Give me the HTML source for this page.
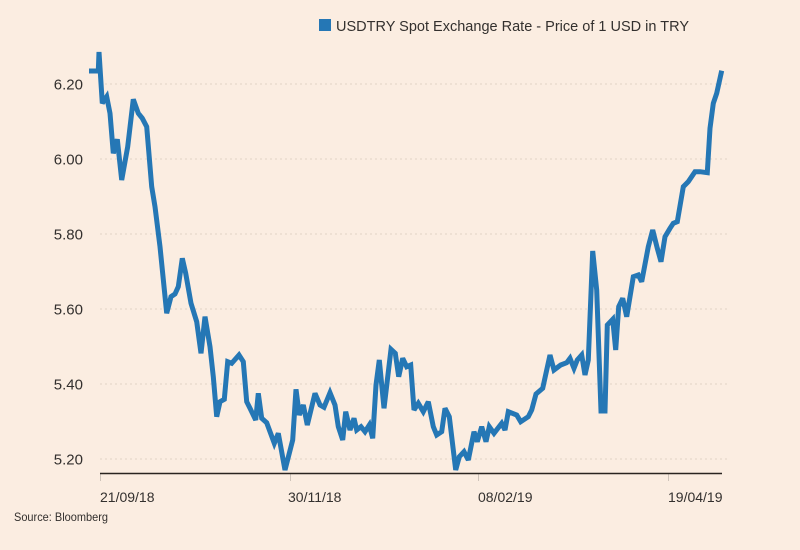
<!DOCTYPE html>
<html>
<head>
<meta charset="utf-8">
<style>
  html,body{margin:0;padding:0;background:#fbede1;}
  svg{display:block;}
  text{font-family:"Liberation Sans",sans-serif;fill:#33302e;}
</style>
</head>
<body>
<svg width="800" height="550" viewBox="0 0 800 550" xmlns="http://www.w3.org/2000/svg">
  <rect width="800" height="550" fill="#fbede1"/>
  <!-- legend -->
  <rect x="319" y="19" width="12" height="12" fill="#2577b5"/>
  <text x="336" y="31" font-size="15" textLength="353" lengthAdjust="spacingAndGlyphs">USDTRY Spot Exchange Rate - Price of 1 USD in TRY</text>

  <!-- gridlines -->
  <g stroke="#e2d3c5" stroke-width="1" stroke-dasharray="2,3">
    <line x1="100" y1="84" x2="727" y2="84"/>
    <line x1="100" y1="159" x2="727" y2="159"/>
    <line x1="100" y1="234" x2="727" y2="234"/>
    <line x1="100" y1="309" x2="727" y2="309"/>
    <line x1="100" y1="384" x2="727" y2="384"/>
    <line x1="100" y1="459" x2="727" y2="459"/>
  </g>

  <!-- y labels -->
  <g font-size="15" text-anchor="end">
    <text x="83" y="89.5">6.20</text>
    <text x="83" y="164.5">6.00</text>
    <text x="83" y="239.5">5.80</text>
    <text x="83" y="314.5">5.60</text>
    <text x="83" y="389.5">5.40</text>
    <text x="83" y="464.5">5.20</text>
  </g>

  <!-- ticks -->
  <g stroke="#cfc4ba" stroke-width="1">
    <line x1="100.5" y1="473" x2="100.5" y2="481"/>
    <line x1="290.5" y1="473" x2="290.5" y2="481"/>
    <line x1="478.5" y1="473" x2="478.5" y2="481"/>
    <line x1="668.5" y1="473" x2="668.5" y2="481"/>
  </g>

  <!-- x labels -->
  <g font-size="14">
    <text x="100" y="502">21/09/18</text>
    <text x="288" y="502">30/11/18</text>
    <text x="478" y="502">08/02/19</text>
    <text x="668" y="502">19/04/19</text>
  </g>

  <text x="14" y="521" font-size="12" textLength="94" lengthAdjust="spacingAndGlyphs">Source: Bloomberg</text>

  <!-- series -->
  <polyline fill="none" stroke="#2577b5" stroke-width="5" stroke-linejoin="miter" stroke-miterlimit="3"
    points="89,71 98.3,71 99,52 102.3,103.3 106.7,96.7 110,113.3 113.3,153.3 117.3,139.3 121.7,180 127.7,146.7 133.3,99.3 138.3,113.3 142.3,118.3 146.7,126.7 151.7,186.7 155,206.7 160,246.7 166.7,313.3 171,296.7 175,294 178.3,286.7 182.3,258.3 185.7,273.3 191,303.3 196.7,321.7 201,353.3 205,316.7 210,346.7 213.3,376.7 216.7,416.7 220,401.7 224.3,399.3 227.7,361.7 231.7,363.3 239,355 243.3,361.7 246.7,401.7 250,408.3 255.7,420 258.3,393.3 261.7,418.3 266.7,422.7 274.3,443.3 278.3,433.3 285,470 292.7,440 296,389.3 299.3,415 303.3,405 307.3,425 315,393.3 320,405 324,407.3 330,392.7 335,405 338.3,426.7 342.7,440 345.7,411.7 350,430 354,418.3 356.7,430 361,426.7 365,431.7 369.3,425 372.7,438.3 376,385 379.3,360 384,408.3 391,349.3 395.3,353.3 398.7,376.7 402.7,358.3 406.7,366.7 410.7,365 414,410 418.3,403.3 423.3,411.7 428.3,401.7 433.3,426.7 436.7,435 441.7,431.7 445,408.3 449.3,416.7 455.7,470 459.3,456.7 464,451.7 468.3,460 474,431.7 477.3,441.7 481.7,426.7 486,441.7 489.3,426.7 494,433.3 501.7,423.3 505,430 508.3,411.7 516.7,415 520.7,421.7 528.3,416.7 531.7,410 536,394 542.7,388.3 550,355 554,370 560.7,365 566.7,362.7 570,358.3 574,368.3 577.3,360 581.7,355 585,375 588.3,360 592.7,251 596.7,290 601,411 605,411 607.3,325 612.7,319.3 615.7,350 618.7,306.7 622.7,298.3 626.7,316.7 633.3,276.7 638.3,275 641.7,281.7 648.3,246.7 652.7,230 657.3,248.3 661,261.7 665,236.7 670,228.3 673.3,223.3 677.3,221.7 683.3,186.7 688.3,181.7 695,171.7 700,171.7 707.3,172.7 710,128.3 713.3,103.3 716.7,93.3 721.7,70.7"/>

  <!-- axis -->
  <line x1="100" y1="473.5" x2="722" y2="473.5" stroke="#2a2420" stroke-width="1.5"/>
</svg>
</body>
</html>
